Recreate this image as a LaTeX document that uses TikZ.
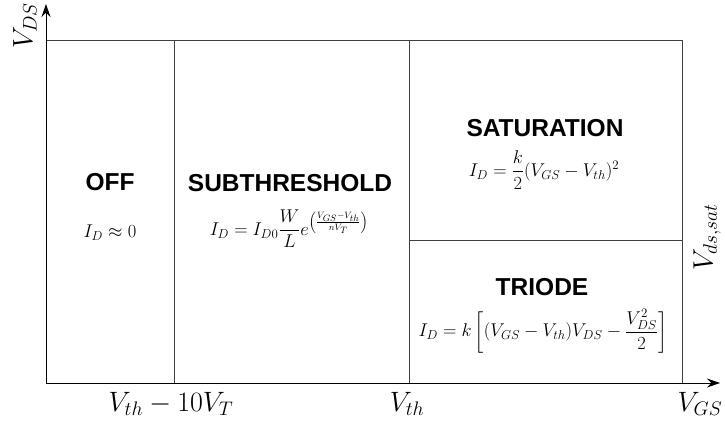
\RequirePackage{fix-cm}
\documentclass[tikz,border=0pt]{standalone}
\usepackage{amsmath}
\usepackage{fontspec}
\usetikzlibrary{arrows.meta, positioning}
\newfontfamily\regionfont{Liberation Sans}
\tikzstyle{region}=[font=\regionfont\bfseries\fontsize{24.5}{28}\selectfont, inner sep=0pt]
\tikzstyle{formula}=[font=\fontsize{18.5}{22}\selectfont, inner sep=0pt]
\tikzstyle{axislabel}=[font=\fontsize{28}{32}\selectfont, inner sep=0pt]
\tikzstyle{border}=[draw=black!75, line width=1pt]

\begin{document}
\begin{tikzpicture}[x=1pt,y=-1pt,>={Stealth[length=13pt,width=9pt]}]
    \useasboundingbox (0,0) rectangle (725,426);
    % corners and region borders
    \coordinate (O) at (46,383);
    \coordinate (yend) at (46,4);
    \coordinate (xend) at (720,383);
    \coordinate (tl) at (46,40);
    \coordinate (br) at (682,383);
    \coordinate (subtop) at (174,40);
    \coordinate (subbot) at (174,383);
    \coordinate (thtop) at (409,40);
    \coordinate (thbot) at (409,383);
    \coordinate (satl) at (409,240);
    \coordinate (satr) at (682,240);
    \draw[border] (tl) rectangle (br);
    \draw[border] (subtop) -- (subbot);
    \draw[border] (thtop) -- (thbot);
    \draw[border] (satl) -- (satr);
    \draw[border, black, ->] (O) -- (yend);
    \draw[border, black, ->] (O) -- (xend);
    % axis labels
    \node[axislabel, rotate=90] (vds) at (25,26) {$V_{DS}$};
    \node[axislabel, rotate=90] (vdssat) at (707,237) {$V_{ds,sat}$};
    \node[axislabel] (vgs) at (700,404) {$V_{GS}$};
    \node[axislabel] (vsub) at (171,404) {$V_{th}-10V_T$};
    \node[axislabel] (vth) at (407,404) {$V_{th}$};
    % regions
    \node[region] (off) at (110,182) {OFF};
    \node[formula] (offeq) at (110,233) {$I_D\approx 0$};
    \node[region] (subth) at (290,183) {SUBTHRESHOLD};
    \node[formula] (subtheq) at (289,229)
        {$I_D=I_{D0}\dfrac{W}{L}e^{\left(\frac{V_{GS}-V_{th}}{nV_T}\right)}$};
    \node[region] (satu) at (545,128) {SATURATION};
    \node[formula] (satueq) at (544,170) {$I_D=\dfrac{k}{2}(V_{GS}-V_{th})^2$};
    \node[region] (tri) at (542,287) {TRIODE};
    \node[formula] (trieq) at (543,331)
        {$I_D=k\left[(V_{GS}-V_{th})V_{DS}-\dfrac{V_{DS}^2}{2}\right]$};
\end{tikzpicture}
\end{document}
